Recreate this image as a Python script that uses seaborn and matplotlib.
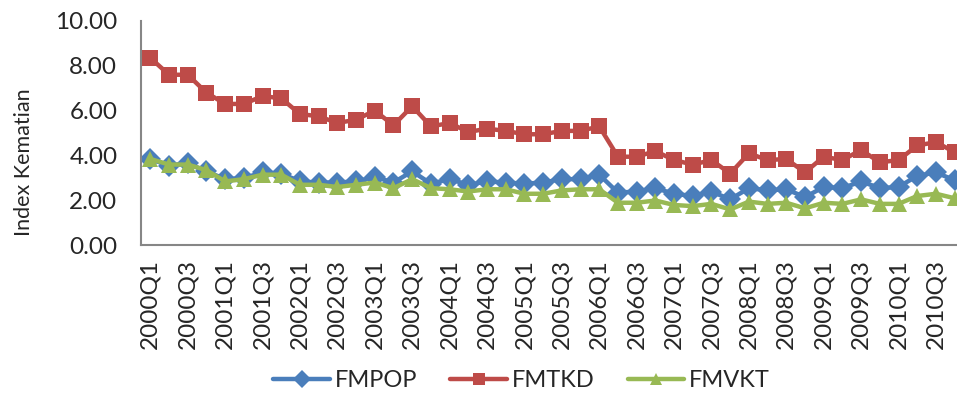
import numpy as np
import pandas as pd
import matplotlib
matplotlib.use('Agg')
import matplotlib.pyplot as plt
import seaborn as sns

# Kuartal 2000Q1 .. 2010Q4
kuartal = [f'{y}Q{q}' for y in range(2000, 2011) for q in range(1, 5)]

fmpop = [3.85, 3.55, 3.65, 3.30, 2.95, 3.00, 3.25, 3.20, 2.85, 2.80, 2.80, 2.85,
         3.05, 2.80, 3.30, 2.75, 2.95, 2.70, 2.85, 2.80, 2.75, 2.80, 2.95, 2.95,
         3.15, 2.35, 2.40, 2.55, 2.30, 2.20, 2.40, 2.05, 2.55, 2.45, 2.50, 2.15,
         2.60, 2.55, 2.85, 2.55, 2.60, 3.10, 3.25, 2.90]
fmtkd = [8.35, 7.60, 7.60, 6.80, 6.30, 6.30, 6.65, 6.55, 5.85, 5.75, 5.45, 5.60,
         6.00, 5.35, 6.20, 5.30, 5.45, 5.05, 5.20, 5.10, 4.95, 4.95, 5.10, 5.10,
         5.30, 3.95, 3.95, 4.20, 3.80, 3.60, 3.80, 3.20, 4.10, 3.80, 3.85, 3.25,
         3.95, 3.80, 4.25, 3.70, 3.80, 4.45, 4.60, 4.15]
fmvkt = [3.85, 3.60, 3.60, 3.35, 2.85, 2.95, 3.15, 3.15, 2.70, 2.70, 2.60, 2.70,
         2.80, 2.55, 2.95, 2.55, 2.50, 2.40, 2.50, 2.50, 2.30, 2.30, 2.45, 2.50,
         2.50, 1.90, 1.90, 2.00, 1.80, 1.75, 1.85, 1.60, 1.95, 1.85, 1.90, 1.65,
         1.90, 1.85, 2.05, 1.85, 1.85, 2.20, 2.30, 2.10]

df = pd.DataFrame({'Kuartal': kuartal, 'FMPOP': fmpop, 'FMTKD': fmtkd, 'FMVKT': fmvkt})
df = df.melt(id_vars='Kuartal', var_name='Seri', value_name='Index Kematian')

sns.set_style('white')
plt.rcParams['font.family'] = ['Lato', 'DejaVu Sans']

warna = {'FMPOP': '#4A7EBB', 'FMTKD': '#BE4B48', 'FMVKT': '#98B954'}
penanda = {'FMPOP': 'D', 'FMTKD': 's', 'FMVKT': '^'}

fig = plt.figure(figsize=(9.57, 4.01), dpi=100)
ax = fig.add_axes([0.1473, 0.388, 0.86, 0.56])

sns.lineplot(data=df, x='Kuartal', y='Index Kematian', hue='Seri', style='Seri',
             palette=warna, markers=penanda, dashes=False, linewidth=3.2,
             markersize=11, markeredgewidth=0, sort=False, ax=ax)

ax.set_xlim(-0.5, len(kuartal) - 0.5)
ax.set_ylim(0, 10)
ax.set_yticks(np.arange(0, 10.01, 2))
ax.set_yticklabels([f'{v:.2f}' for v in np.arange(0, 10.01, 2)], fontsize=17.5)
ax.set_xticks(range(0, len(kuartal), 2))
ax.set_xticklabels(kuartal[::2], rotation=90, fontsize=17.5)
ax.set_xticks(np.arange(-0.5, len(kuartal), 1), minor=True)
ax.tick_params(axis='x', which='major', length=0, pad=10)
ax.tick_params(axis='x', which='minor', length=5, width=1.2, color='#868686')
ax.tick_params(axis='y', length=7, width=1.2, color='#868686', pad=10)
ax.set_xlabel('')
ax.set_ylabel('Index Kematian', fontsize=15.5)
ax.yaxis.set_label_coords(-0.13, 0.37)

for s in ['top', 'right']:
    ax.spines[s].set_visible(False)
for s in ['left', 'bottom']:
    ax.spines[s].set_color('#868686')
    ax.spines[s].set_linewidth(1.5)

ax.legend(loc='center', bbox_to_anchor=(0.545, 0.05), bbox_transform=fig.transFigure,
          ncol=3, frameon=False, fontsize=17, handlelength=2.4, columnspacing=1.4,
          handletextpad=0.2, markerscale=0.85)

fig.savefig('out.png', dpi=100)
